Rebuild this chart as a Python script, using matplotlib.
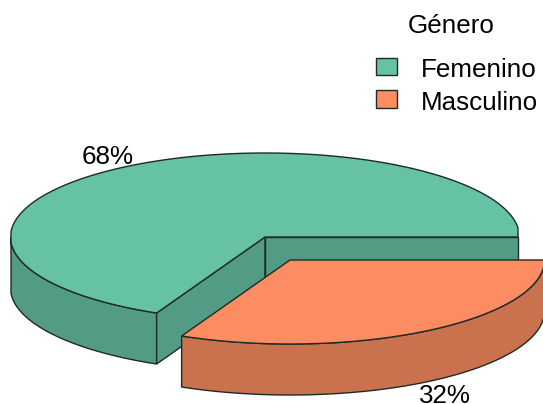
import matplotlib.pyplot as plt
from matplotlib.patches import Polygon, Rectangle
import numpy as np

plt.rcParams['font.family'] = ['Liberation Sans', 'DejaVu Sans']

# data
categories = ['Femenino', 'Masculino']
values     = [68, 32]
labels     = ['68%', '32%']
title      = 'Género'

# style
top_colors  = ['#66C2A5', '#FC8D62']
side_colors = ['#529B84', '#CA714E']
edge        = '#1f2a28'
Fsize       = 18.7

# geometry in pixels of the picture
rx, ry, depth = 254.5, 84, 51
centers = [(265, 237), (290, 260)]
Xlim    = [(11, 518), (-50, 600)]


def arc(c, t0, t1, xlim, dy=0):
    t = np.radians(np.linspace(t0, t1, 200))
    x = np.clip(c[0] + rx*np.cos(t), xlim[0], xlim[1])
    y = c[1] - ry*np.sin(t) + dy
    return np.column_stack([x, y])


def wall(p0, p1, color):
    ax.add_patch(Polygon([p0, p1, (p1[0], p1[1]+depth), (p0[0], p0[1]+depth)],
                         fc=color, ec=edge, lw=1))


fig = plt.figure(figsize=(5.43, 4.04), dpi=100)
ax = fig.add_axes([0, 0, 1, 1])
ax.set_xlim(0, 543)
ax.set_ylim(404, 0)
ax.axis('off')

angles = np.cumsum([0] + values) * 3.6

# Femenino --------------------------------------------
c, a0, a1 = centers[0], angles[0], angles[1]
rim = arc(c, 180, a1, Xlim[0])
ax.add_patch(Polygon(np.vstack([rim, arc(c, a1, 180, Xlim[0], depth)]),
                     fc=side_colors[0], ec=edge, lw=1))
wall(c, arc(c, a1, a1, Xlim[0])[0], side_colors[0])
wall(c, arc(c, a0, a0, Xlim[0])[0], side_colors[0])
ax.add_patch(Polygon(np.vstack([[c], arc(c, a0, a1, Xlim[0])]),
                     fc=top_colors[0], ec=edge, lw=1))

# Masculino -------------------------------------------
c, a0, a1 = centers[1], angles[1], angles[2]
rim = arc(c, a0, a1, Xlim[1])
ax.add_patch(Polygon(np.vstack([rim, arc(c, a1, a0, Xlim[1], depth)]),
                     fc=side_colors[1], ec=edge, lw=1))
ax.add_patch(Polygon(np.vstack([[c], rim]),
                     fc=top_colors[1], ec=edge, lw=1))

# Slice labels
ax.text(108, 164, labels[0], fontsize=Fsize, ha='center', va='baseline', color='black')
ax.text(445, 403, labels[1], fontsize=Fsize, ha='center', va='baseline', color='black')

# Legend
ax.text(408, 33, title, fontsize=Fsize, ha='left', va='baseline', color='black')
for i, name in enumerate(categories):
    y = 57.5 + i*32.5
    ax.add_patch(Rectangle((376, y), 21, 17.5, fc=top_colors[i], ec=edge, lw=1))
    ax.text(421, y + 19.5, name, fontsize=Fsize, ha='left', va='baseline', color='black')

fig.savefig('out.png', dpi=100)
